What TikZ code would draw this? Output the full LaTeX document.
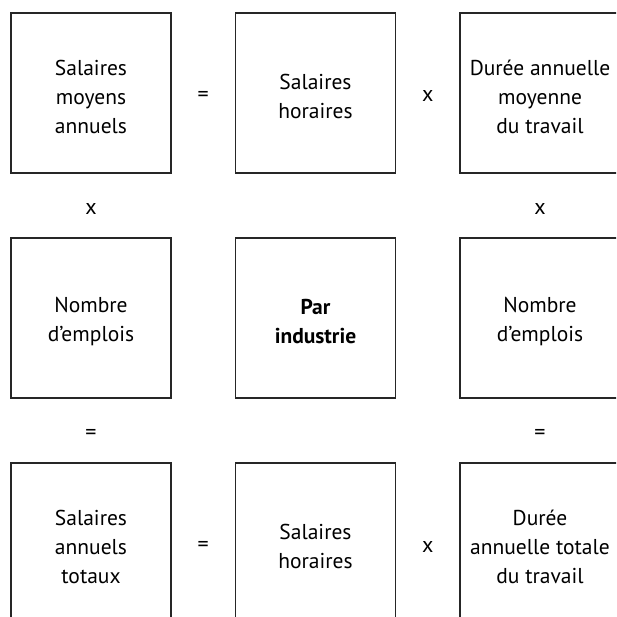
\documentclass[tikz,border=0pt]{standalone}
\usepackage{fontspec}
\setmainfont{PT Sans}
\usetikzlibrary{calc}
\begin{document}
\begin{tikzpicture}[x=1pt,y=-1pt,
  cell/.style={draw=black!85,line width=1.1pt,minimum width=160pt,minimum height=160pt,inner sep=0pt},
  txt/.style={inner sep=0pt,align=center,font=\fontsize{21.5}{29}\selectfont},
  op/.style={font=\fontsize{22}{25}\selectfont,inner sep=0pt,yshift=-3.5pt}]
\useasboundingbox (0,0) rectangle (616,617);
\clip (0,0) rectangle (616,617);
\node[cell] (a1) at (91,93) {};
\node[cell] (a2) at (315.5,93) {};
\node[cell] (a3) at (540,93) {};
\node[cell] (b1) at (91,318) {};
\node[cell] (b2) at (315.5,318) {};
\node[cell] (b3) at (540,318) {};
\node[cell] (c1) at (91,543) {};
\node[cell] (c2) at (315.5,543) {};
\node[cell] (c3) at (540,543) {};
\node[txt] (a1t) at ([yshift=-3.5pt]a1.center) {Salaires\\moyens\\annuels};
\node[txt] (a2t) at ([yshift=-3.5pt]a2.center) {Salaires\\horaires};
\node[txt] (a3t) at ([yshift=-3.5pt]a3.center) {Durée annuelle\\moyenne\\du travail};
\node[txt] (b1t) at ([yshift=-3.5pt]b1.center) {Nombre\\d’emplois};
\node[txt] (b2t) at ([yshift=-3.5pt]b2.center) {\textbf{Par}\\\textbf{industrie}};
\node[txt] (b3t) at ([yshift=-3.5pt]b3.center) {Nombre\\d’emplois};
\node[txt] (c1t) at ([yshift=-3.5pt]c1.center) {Salaires\\annuels\\totaux};
\node[txt] (c2t) at ([yshift=-3.5pt]c2.center) {Salaires\\horaires};
\node[txt] (c3t) at ([yshift=-3.5pt]c3.center) {Durée\\annuelle totale\\du travail};
\node[op] (o1) at ($(a1.east)!0.5!(a2.west)$) {=};
\node[op] (o2) at ($(a2.east)!0.5!(a3.west)$) {x};
\node[op] (o3) at ($(a1.south)!0.5!(b1.north)$) {x};
\node[op] (o4) at ($(a3.south)!0.5!(b3.north)$) {x};
\node[op] (o5) at ($(b1.south)!0.5!(c1.north)$) {=};
\node[op] (o6) at ($(b3.south)!0.5!(c3.north)$) {=};
\node[op] (o7) at ($(c1.east)!0.5!(c2.west)$) {=};
\node[op] (o8) at ($(c2.east)!0.5!(c3.west)$) {x};
\end{tikzpicture}
\end{document}
